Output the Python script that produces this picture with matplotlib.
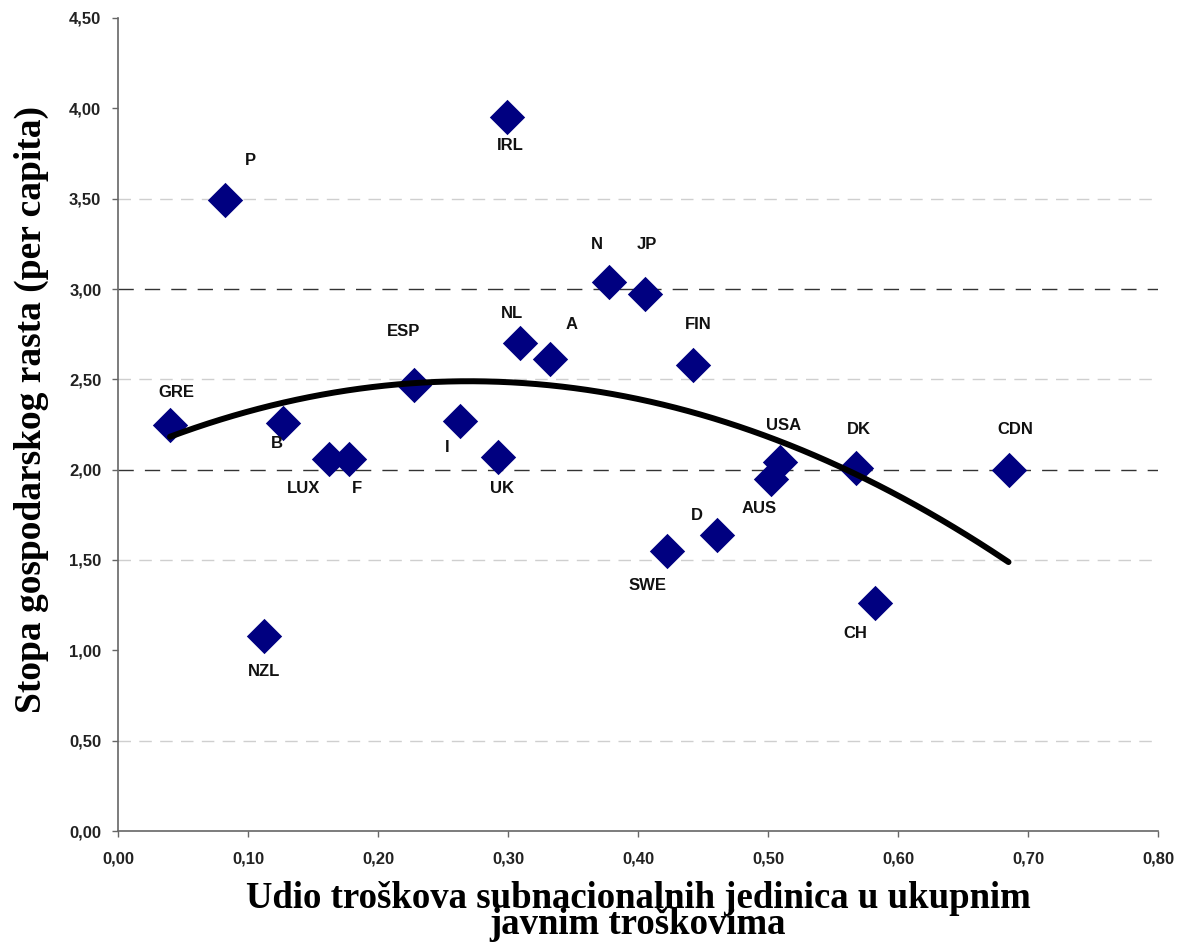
import matplotlib
matplotlib.use("Agg")
import matplotlib.pyplot as plt
import numpy as np

countries = ["GRE", "P", "B", "NZL", "LUX", "F", "ESP", "I", "UK", "IRL", "NL", "A",
             "N", "JP", "FIN", "SWE", "D", "USA", "AUS", "DK", "CH", "CDN"]
share = [0.040, 0.082, 0.127, 0.112, 0.162, 0.178, 0.228, 0.263, 0.292, 0.299, 0.309, 0.332,
         0.378, 0.405, 0.442, 0.422, 0.461, 0.509, 0.502, 0.568, 0.582, 0.685]
growth = [2.25, 3.49, 2.26, 1.08, 2.06, 2.06, 2.47, 2.27, 2.07, 3.95, 2.70, 2.61,
          3.04, 2.97, 2.58, 1.55, 1.64, 2.04, 1.95, 2.01, 1.26, 2.00]
# label offsets in pixels (dx, dy) relative to the marker
label_offsets = [(6, 32), (26, 40), (-6, -21), (0, -36), (-25, -30), (8, -30), (-11, 53),
                 (-13, -27), (4, -31), (4, -28), (-8, 30), (22, 35), (-13, 37), (2, 50),
                 (6, 40), (-19, -35), (-20, 19), (4, 37), (-11, -30), (2, 38), (-19, -30), (7, 40)]

# quadratic trend coefficients (y = c0 + c1*x + c2*x^2)
trend_coef = [2.066, 3.137, -5.81]
trend_range = [0.040, 0.685]

xticks = [0.0, 0.1, 0.2, 0.3, 0.4, 0.5, 0.6, 0.7, 0.8]
yticks = [0.0, 0.5, 1.0, 1.5, 2.0, 2.5, 3.0, 3.5, 4.0, 4.5]
dark_grid = [2.0, 3.0]
light_grid = [0.5, 1.5, 2.5, 3.5]

fig = plt.figure(figsize=(11.82, 9.42), dpi=100)
ax = fig.add_axes([118/1182, 111/942, 1040/1182, 813/942])
ax.set_xlim(0, 0.8)
ax.set_ylim(0, 4.5)

for g in light_grid:
    ax.axhline(g, color="#cfcfcf", lw=1.0, ls=(0, (9, 6)), zorder=0)
for g in dark_grid:
    ax.axhline(g, color="#333333", lw=1.0, ls=(0, (11, 8)), zorder=0)

ax.scatter(share, growth, marker="D", s=18**2, color="#000080", zorder=3, linewidths=0)

xs = np.linspace(trend_range[0], trend_range[1], 200)
ys = trend_coef[0] + trend_coef[1]*xs + trend_coef[2]*xs**2
ax.plot(xs, ys, color="black", lw=4.3, solid_capstyle="round", zorder=4)

for name, x, y, (dx, dy) in zip(countries, share, growth, label_offsets):
    ax.annotate(name, (x, y), xytext=(dx*0.72, dy*0.72), textcoords="offset points",
                ha="center", va="center", fontsize=12, fontweight="bold",
                family="Liberation Sans", color="#111111", zorder=5)

ax.set_xticks(xticks)
ax.set_yticks(yticks)
ax.set_xticklabels([f"{t:.2f}".replace(".", ",") for t in xticks])
ax.set_yticklabels([f"{t:.2f}".replace(".", ",") for t in yticks])
for lab in ax.get_xticklabels() + ax.get_yticklabels():
    lab.set_family("Liberation Sans")
    lab.set_fontweight("bold")
    lab.set_fontsize(12)
    lab.set_color("#222222")
ax.tick_params(axis="both", direction="out", length=4, width=1, color="#666666")
ax.tick_params(axis="x", pad=11)
ax.tick_params(axis="y", pad=8)

for s in ["top", "right"]:
    ax.spines[s].set_visible(False)
for s in ["left", "bottom"]:
    ax.spines[s].set_color("#666666")
    ax.spines[s].set_linewidth(1.2)

ax.set_xlabel("Udio troškova subnacionalnih jedinica u ukupnim\njavnim troškovima",
              family="Liberation Serif", fontweight="bold", fontsize=26.5, linespacing=0.68,
              labelpad=10)
ax.set_ylabel("Stopa gospodarskog rasta (per capita)", family="Liberation Serif",
              fontweight="bold", fontsize=27)
ax.yaxis.set_label_coords(-0.066, 0.518)

fig.savefig("out.png", dpi=100)
